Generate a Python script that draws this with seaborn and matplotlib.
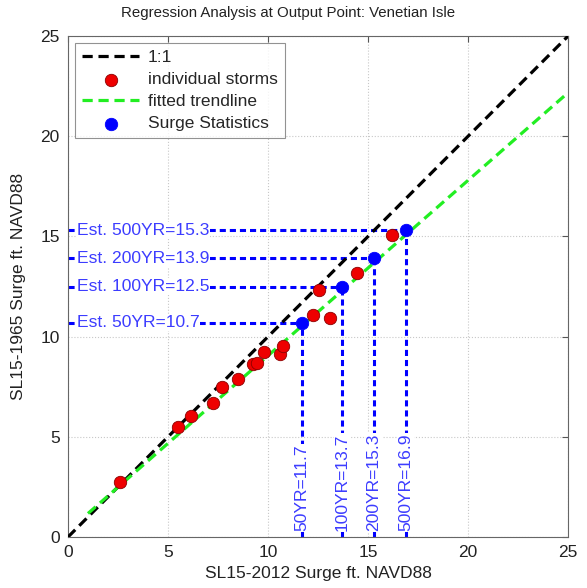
import numpy as np
import pandas as pd
import matplotlib
matplotlib.use('Agg')
import matplotlib.pyplot as plt
import seaborn as sns

# storm surge pairs (SL15-2012, SL15-1965)
storm_x = [2.6, 5.5, 6.15, 7.25, 7.7, 8.5, 9.25, 9.45, 9.8, 10.6, 10.75, 12.25, 13.1, 12.55, 14.45, 16.2]
storm_y = [2.75, 5.5, 6.05, 6.7, 7.5, 7.9, 8.65, 8.7, 9.25, 9.15, 9.55, 11.1, 10.95, 12.35, 13.2, 15.05]

# return-period statistics
stat_names = ['50YR', '100YR', '200YR', '500YR']
stat_x = [11.7, 13.7, 15.3, 16.9]
stat_y = [10.7, 12.5, 13.9, 15.3]

# fitted trendline
trend_x = [1.0, 25.0]
trend_slope = 0.875
trend_icpt = 0.3
trend_y = [trend_slope * v + trend_icpt for v in trend_x]

sns.set_style('white')
plt.rcParams['font.family'] = ['Liberation Sans', 'DejaVu Sans']

fig = plt.figure(figsize=(5.87, 5.88), dpi=100)
ax = fig.add_axes([0.1158, 0.0867, 0.852, 0.852])

blue_txt = '#3c3cff'

sns.lineplot(x=[0, 25], y=[0, 25], ax=ax, color='black', linestyle=(0, (3.2, 1.8)),
             linewidth=2.3, label='1:1', zorder=3)
sns.scatterplot(x=storm_x, y=storm_y, ax=ax, color='#ee0000', edgecolor='#8b0000',
                s=80, linewidth=0.6, label='individual storms', zorder=4)
sns.lineplot(x=trend_x, y=trend_y, ax=ax, color='#22ee22', linestyle=(0, (3.2, 1.8)),
             linewidth=2.3, label='fitted trendline', zorder=3)
sns.scatterplot(x=stat_x, y=stat_y, ax=ax, color='#0000ff', edgecolor='#0000ff',
                s=80, linewidth=0.6, label='Surge Statistics', zorder=5)

for name, sx, sy in zip(stat_names, stat_x, stat_y):
    ax.plot([0, sx], [sy, sy], color='#0000ff', linestyle=(0, (2, 1.3)), linewidth=2.2, zorder=2)
    ax.plot([sx, sx], [0, sy], color='#0000ff', linestyle=(0, (2, 1.3)), linewidth=2.2, zorder=2)
    ax.text(0.45, sy, f'Est. {name}={sy:.1f}', color=blue_txt, fontsize=12.6,
            ha='left', va='center', zorder=6,
            bbox=dict(facecolor='white', edgecolor='none', pad=0.5))
    ax.text(sx, 0.3, f'{name}={sx:.1f}', color=blue_txt, fontsize=12.6, rotation=90,
            ha='center', va='bottom', zorder=6,
            bbox=dict(facecolor='white', edgecolor='none', pad=0.5))

ax.set_xlim(0, 25)
ax.set_ylim(0, 25)
ax.set_xticks(range(0, 26, 5))
ax.set_yticks(range(0, 26, 5))
ax.grid(True, color='#c8c8c8', linestyle=':', linewidth=0.8)
ax.tick_params(direction='in', top=True, right=True, length=4, labelsize=12.5,
               color='#555555', labelcolor='#222222', pad=6)
for sp in ax.spines.values():
    sp.set_color('#666666')
    sp.set_linewidth(0.8)

ax.set_title('Regression Analysis at Output Point: Venetian Isle', fontsize=10.8,
             pad=14, color='#222222', x=0.44)
ax.set_xlabel('SL15-2012 Surge ft. NAVD88', fontsize=12.5, labelpad=4, color='#222222')
ax.set_ylabel('SL15-1965 Surge ft. NAVD88', fontsize=12.5, labelpad=10, color='#222222')

leg = ax.legend(loc='upper left', fontsize=12.5, frameon=True, fancybox=False,
                borderaxespad=0.4, handlelength=3.3, labelspacing=0.4, handletextpad=0.5)
leg.get_frame().set_edgecolor('#777777')
leg.get_frame().set_linewidth(0.8)

fig.savefig('out.png', dpi=100)
